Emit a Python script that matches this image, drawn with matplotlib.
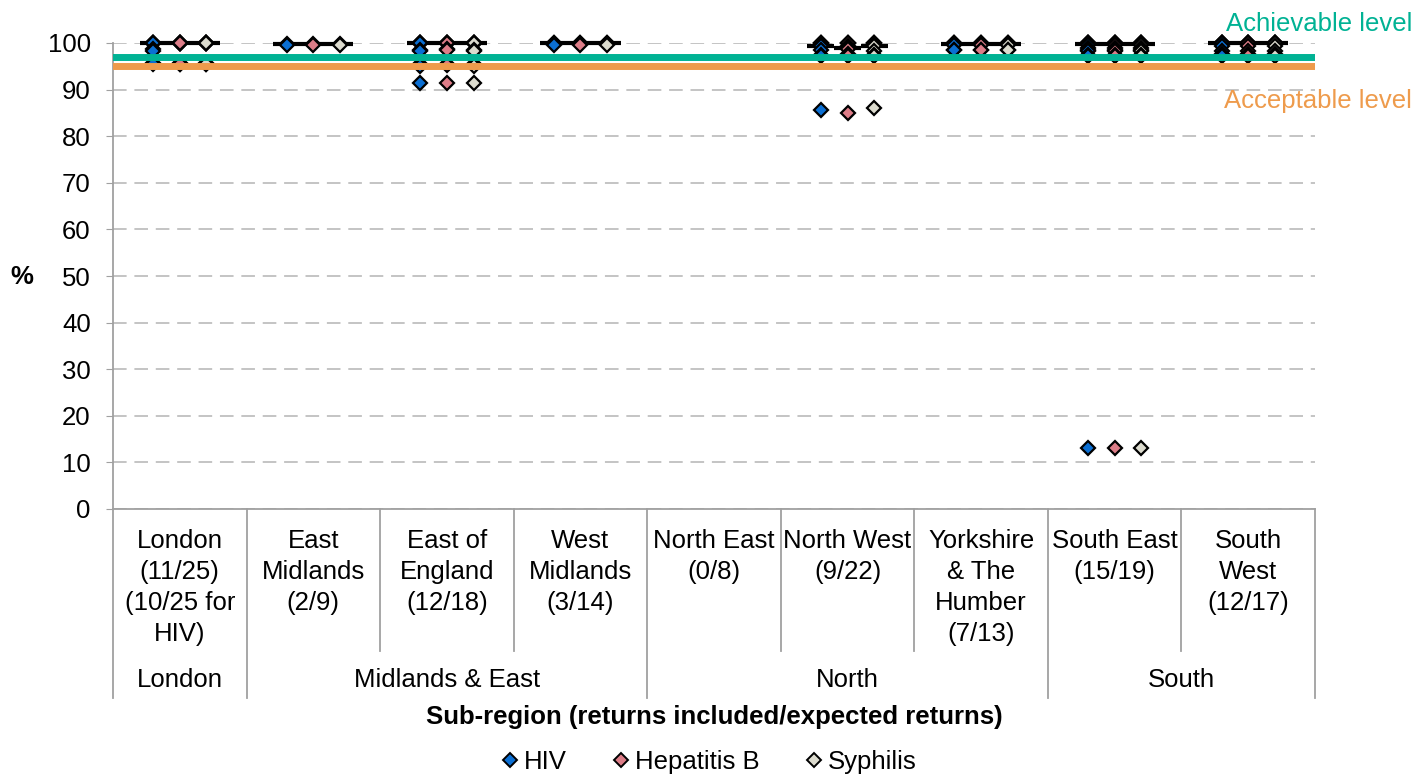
import numpy as np
import matplotlib
matplotlib.use('Agg')
from matplotlib import pyplot as plt
from matplotlib.lines import Line2D

plt.rcParams['font.family'] = ['Liberation Sans', 'DejaVu Sans']

# Sub-regions and groups
categories = ['London\n(11/25)\n(10/25 for\nHIV)', 'East\nMidlands\n(2/9)', 'East of\nEngland\n(12/18)',
              'West\nMidlands\n(3/14)', 'North East\n(0/8)', 'North West\n(9/22)',
              'Yorkshire\n& The\nHumber\n(7/13)', 'South East\n(15/19)', 'South\nWest\n(12/17)']
groups = ['London', 'Midlands & East', 'North', 'South']
group_sizes = [1, 3, 3, 2]

# Values per clinic return (%), one list per sub-region
hiv = [
    [100, 100, 100, 100, 100, 100, 98.7, 98.3, 95.7, 95.5],
    [99.8, 99.6],
    [100, 100, 100, 100, 100, 100, 100, 98.6, 98.2, 95.4, 95.0, 91.5],
    [100, 100, 99.6],
    [],
    [100, 100, 100, 99.5, 99.3, 98.5, 97.5, 97.2, 85.6],
    [100, 100, 100, 99.8, 99.5, 98.6, 98.4],
    [100, 100, 100, 100, 100, 100, 99.8, 99.7, 99.5, 99.0, 98.6, 98.3, 97.5, 97.2, 13.1],
    [100, 100, 100, 100, 100, 100, 100, 100, 99.4, 98.2, 97.6, 97.2],
]
hepb = [
    [100, 100, 100, 100, 100, 100, 100, 100, 95.8, 95.6, 95.4],
    [99.8, 99.6],
    [100, 100, 100, 100, 100, 100, 100, 98.8, 98.4, 95.6, 95.2, 91.4],
    [100, 100, 99.6],
    [],
    [100, 100, 100, 99.4, 99.0, 98.8, 97.6, 97.3, 85.0],
    [100, 100, 100, 99.8, 99.5, 98.6, 98.4],
    [100, 100, 100, 100, 100, 100, 99.8, 99.7, 99.5, 99.0, 98.6, 98.3, 97.5, 97.2, 13.0],
    [100, 100, 100, 100, 100, 100, 100, 100, 99.4, 98.2, 97.6, 97.2],
]
syph = [
    [100, 100, 100, 100, 100, 100, 100, 100, 95.8, 95.6, 95.4],
    [99.8, 99.6],
    [100, 100, 100, 100, 100, 100, 100, 98.6, 98.2, 95.5, 95.1, 91.5],
    [100, 100, 99.6],
    [],
    [100, 100, 100, 99.6, 99.4, 98.2, 97.5, 97.2, 86.0],
    [100, 100, 100, 99.8, 99.5, 98.6, 98.4],
    [100, 100, 100, 100, 100, 100, 99.8, 99.7, 99.5, 99.0, 98.6, 98.3, 97.5, 97.2, 13.0],
    [100, 100, 100, 100, 100, 100, 100, 100, 99.4, 98.2, 97.6, 97.2],
]
achievable = 97
acceptable = 95

series = [('HIV', hiv, '#0B6FD3', -0.2), ('Hepatitis B', hepb, '#DD7D88', 0.0), ('Syphilis', syph, '#DCDBCE', 0.2)]
fs = 18.5

fig = plt.figure(figsize=(14.14, 7.76), dpi=100)
ax = fig.add_axes([113 / 1414, 1 - 509 / 776, 1202 / 1414, 466 / 776])

for name, data, color, off in series:
    for i, vals in enumerate(data):
        if not vals:
            continue
        ax.plot([i + off] * len(vals), vals, linestyle='none', marker='D', ms=7.5,
                mfc=color, mec='black', mew=1.6, clip_on=False, zorder=3)
        med = np.median(vals)
        ax.plot([i + off - 0.1, i + off + 0.1], [med, med], color='black', lw=3,
                solid_capstyle='butt', clip_on=False, zorder=2)

ax.axhline(achievable, color='#00B294', lw=5, zorder=4)
ax.axhline(acceptable, color='#EE9B4C', lw=5, zorder=4)
fig.text(1412 / 1414, 1 - 24 / 776, 'Achievable level', color='#00B294', ha='right', va='center', fontsize=fs)
fig.text(1412 / 1414, 1 - 101 / 776, 'Acceptable level', color='#EE9B4C', ha='right', va='center', fontsize=fs)

ax.set_xlim(-0.5, 8.5)
ax.set_ylim(0, 100)
ax.set_yticks(range(0, 101, 10))
ax.tick_params(axis='y', labelsize=fs, length=5, color='#A0A0A0', pad=11)
ax.set_xticks([])
ax.grid(axis='y', color='#C4C4C4', linestyle=(0, (7, 4)), lw=1.4, zorder=0)
for s in ['top', 'right']:
    ax.spines[s].set_visible(False)
for s in ['left', 'bottom']:
    ax.spines[s].set_color('#A0A0A0')
    ax.spines[s].set_linewidth(1.3)
fig.text(22 / 1414, 1 - 277 / 776, '%', ha='center', va='center', fontsize=fs, fontweight='bold')

# multi-level category axis
trans = ax.get_xaxis_transform()
bounds = np.cumsum([0] + group_sizes) - 0.5
for b in bounds:
    ax.plot([b, b], [0, -0.405], color='#A0A0A0', lw=1.3, transform=trans, clip_on=False)
for i in range(len(categories) - 1):
    b = i + 0.5
    if b not in bounds:
        ax.plot([b, b], [0, -0.305], color='#A0A0A0', lw=1.3, transform=trans, clip_on=False)
for i, lab in enumerate(categories):
    ax.text(i, -0.043, lab, transform=trans, ha='center', va='top', fontsize=fs, linespacing=1.37)
for g, lo, hi in zip(groups, bounds[:-1], bounds[1:]):
    ax.text((lo + hi) / 2, -0.367, g, transform=trans, ha='center', va='center', fontsize=fs)
ax.text(4, -0.447, 'Sub-region (returns included/expected returns)', transform=trans,
        ha='center', va='center', fontsize=fs, fontweight='bold')

handles = [Line2D([], [], linestyle='none', marker='D', ms=7, mfc=c, mec='black', mew=1.4)
           for _, _, c, _ in series]
fig.legend(handles, [n for n, _, _, _ in series], loc='center', bbox_to_anchor=(0.5, 1 - 762 / 776),
           ncol=3, frameon=False, fontsize=fs, handletextpad=0.05, columnspacing=1.6, handlelength=1)

fig.savefig('out.png', dpi=100)
